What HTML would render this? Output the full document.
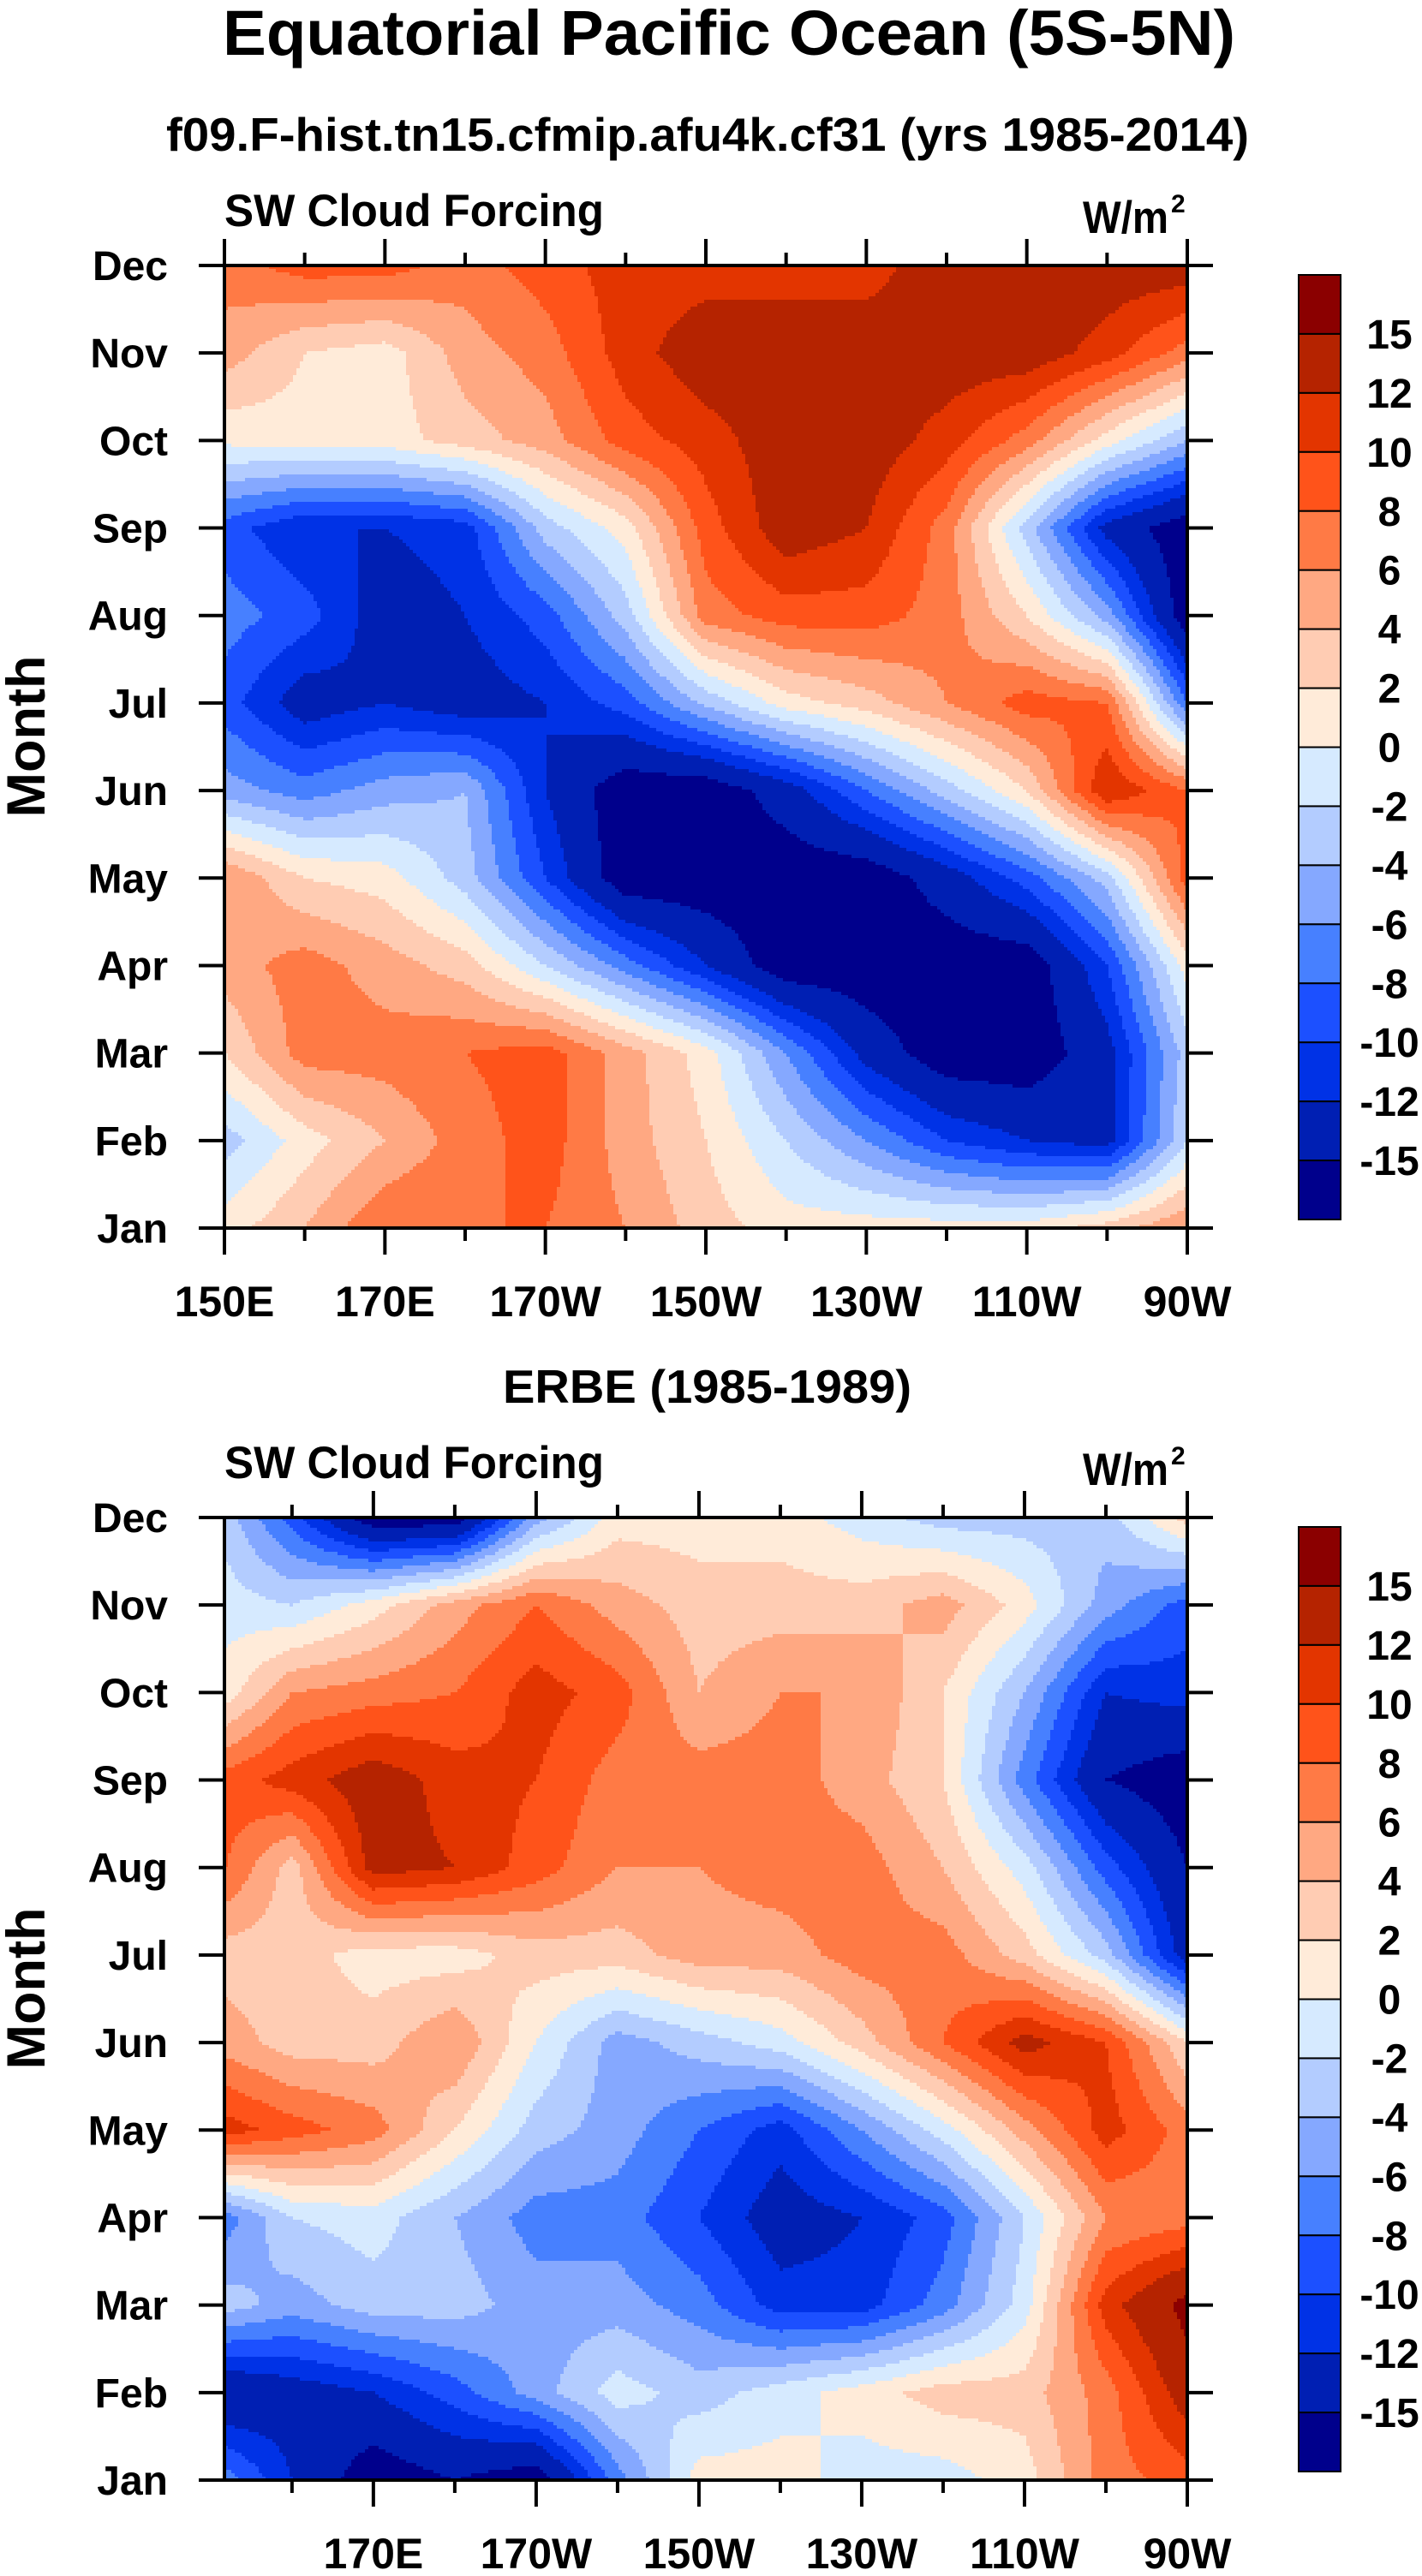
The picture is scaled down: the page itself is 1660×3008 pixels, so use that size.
<!DOCTYPE html>
<html><head><meta charset="utf-8"><title>Equatorial Pacific Ocean SW Cloud Forcing</title>
<style>html,body{margin:0;padding:0;background:#fff;}svg{display:block;font-family:"Liberation Sans",Arial,sans-serif;font-weight:bold;}</style>
</head><body>
<svg id="chart" xmlns="http://www.w3.org/2000/svg" width="1660" height="3008" viewBox="0 0 1660 3008">
<rect x="0" y="0" width="1660" height="3008" fill="#fff"/>
<text x="260" y="64" font-size="74" textLength="1182" lengthAdjust="spacingAndGlyphs">Equatorial Pacific Ocean (5S-5N)</text>
<text x="194" y="176" font-size="55" textLength="1264" lengthAdjust="spacingAndGlyphs">f09.F-hist.tn15.cfmip.afu4k.cf31 (yrs 1985-2014)</text>
<text x="587" y="1638" font-size="55" textLength="477" lengthAdjust="spacingAndGlyphs">ERBE (1985-1989)</text>
<g id="p1"></g>
<g id="p2"></g>
</svg>
<script>
const levels = [-15,-12,-10,-8,-6,-4,-2,0,2,4,6,8,10,12,15];
const levelColors = ["#00008c","#001fb3","#0032e6","#1c50ff","#4780ff","#85a8ff","#b3ccff","#d6eaff","#ffebd9","#ffccb3","#ffa882","#ff7a45","#ff531a","#e33500","#b52300","#8b0000"];
const monthLabels = ["Jan","Feb","Mar","Apr","May","Jun","Jul","Aug","Sep","Oct","Nov","Dec"];
const modelLons = [150,160,170,180,190,200,210,220,230,240,250,260,270];
const modelValues = [
 [1,4,8,8,8,6,3,1,1,1,1,3,6],
 [-3,1,4,7,9,5,2,-2,-6,-10,-12,-13,-2],
 [2,7,7,8,9,5,1,-6,-13,-17,-17,-13,-3],
 [5,7,5,3,-2,-7,-12,-17,-17,-17,-17,-10,1],
 [6,2,1,-3,-10,-17,-17,-17,-17,-13.5,-9,-3,9],
 [-5,-7,-5,-4,-12,-17,-17,-13.5,-8,-3,2,12,8],
 [-9,-13.5,-12,-13.5,-12,-9,-3.5,1,3,6,9,8,-8],
 [-7,-9,-13.5,-12,-9,-3,7,9,9,7,2,-5,-17],
 [-9,-12,-12,-11,-3,1,9,13.5,12,7,-3,-13,-17],
 [0.5,1,1,3,5,9,11,13.5,13.5,11,7,1,-4],
 [5,2,1,5,7,11,13.5,13.5,13.5,13.5,13.5,11,7],
 [7,9,9,7,9,11,11,11,11,13.5,13.5,13.5,13.5]
];
const erbeLons = [152,160,170,180,190,200,210,220,230,240,250,260,270];
const erbeValues = [
 [-7,-12,-17,-15,-17,-7,1,1,-1,-1,1,7,9],
 [-15,-13.5,-12,-9,-5,-1,-3,-1,1,3,3,7,13.5],
 [-3,-5,-3,-3,-5,-5,-7,-11,-11,-7,-1,11,16],
 [-7,-2,-1,-4,-7,-7,-10,-13.5,-12,-9,-2,6,7],
 [11,9,7,2,-3,-5,-8,-11,-6,-1,5,11,7],
 [5,3,3,6,0,-5,-3,-1,3,8,13,10,2],
 [3,3,1,1,3,3,5,5,7,7,3,-3,-13.5],
 [8,3,13,12,9,6,6,7,7,4,-1,-9,-15],
 [9,11,13.5,11,10,7,7,7,5,2,-7,-15,-17],
 [1,6,7,8,11,9,4,6,6,2,-4,-12,-11],
 [-1,-2,1,5,8,5,3,3,3,5,1,-5,-9],
 [-3,-9,-17,-17,-5,1,1,1,-1,-3,-3,-3,3]
];
const lonTickValues = [150,160,170,180,190,200,210,220,230,240,250,260,270];
const lonTickLabels = {150:"150E",170:"170E",190:"170W",210:"150W",230:"130W",250:"110W",270:"90W"};

const NS = "http://www.w3.org/2000/svg";
function mk(tag, attrs, parent){const e=document.createElementNS(NS,tag);for(const k in attrs)e.setAttribute(k,attrs[k]);parent.appendChild(e);return e;}
function levelIndex(v){let i=0;while(i<levels.length&&v>=levels[i])i++;return i;}
function sample(lons, vals, lon, m){
  let j=0;while(j<lons.length-2&&lon>lons[j+1])j++;
  let tx=(lon-lons[j])/(lons[j+1]-lons[j]);tx=Math.max(0,Math.min(1,tx));
  let i=Math.floor(m);if(i>10)i=10;if(i<0)i=0;let ty=m-i;ty=Math.max(0,Math.min(1,ty));
  const a=vals[i][j],b=vals[i][j+1],c=vals[i+1][j],d=vals[i+1][j+1];
  return (a*(1-tx)+b*tx)*(1-ty)+(c*(1-tx)+d*tx)*ty;
}
function drawPanel(g, lons, vals, lonMin, lonMax, y0){
  const x0=262,w=1124,h=1124;
  const xS=lon=>x0+(lon-lonMin)/(lonMax-lonMin)*w;
  const yS=m=>y0+h-m*h/11;
  const field=mk("g",{},g);
  
  
  const cs=4;
  for(let py=0;py<h;py+=cs){
    const m=(h-(py+cs/2))/h*11;
    let runStart=0,runCol=-1;
    for(let px=0;px<=w;px+=cs){
      let ci=-1;
      if(px<w){const lon=lonMin+(px+cs/2)/w*(lonMax-lonMin);ci=levelIndex(sample(lons,vals,lon,m));}
      if(ci!==runCol){
        if(runCol>=0){
          const r=mk("rect",{x:x0+runStart,y:y0+py,width:px-runStart+0.6,height:cs+0.6,fill:levelColors[runCol]},field);
          
          
        }
        runStart=px;runCol=ci;
      }
    }
  }
  // frame
  const fr=mk("rect",{x:x0,y:y0,width:w,height:h,fill:"none",stroke:"#000","stroke-width":4},g);
  
  
  // month ticks and labels
  monthLabels.forEach((lab,k)=>{
    const y=yS(k);
    mk("line",{x1:x0-30,y1:y,x2:x0,y2:y,stroke:"#000","stroke-width":4},g);
    mk("line",{x1:x0+w,y1:y,x2:x0+w+30,y2:y,stroke:"#000","stroke-width":4},g);
    const t=mk("text",{x:196,y:y+17,"font-size":48,"text-anchor":"end"},g);
    t.textContent=lab;
    
    
  });
  // lon ticks
  lonTickValues.forEach(lon=>{
    if(lon<lonMin-0.01)return;
    const x=xS(lon);const major=(lon-150)%20===0;const L=major?31:15;
    mk("line",{x1:x,y1:y0-L,x2:x,y2:y0,stroke:"#000","stroke-width":4},g);
    mk("line",{x1:x,y1:y0+h,x2:x,y2:y0+h+L,stroke:"#000","stroke-width":4},g);
    if(lonTickLabels[lon]){
      const t=mk("text",{x:x,y:y0+h+103,"font-size":50,"text-anchor":"middle"},g);
      t.textContent=lonTickLabels[lon];
      
      
    }
  });
  const yt=mk("text",{x:0,y:0,"font-size":63,"text-anchor":"middle",transform:`translate(52,${y0+h/2-12}) rotate(-90)`},g);
  yt.textContent="Month";
  
  
  const lt=mk("text",{x:262,y:y0-46,"font-size":53,textLength:443,lengthAdjust:"spacingAndGlyphs"},g);
  lt.textContent="SW Cloud Forcing";
  
  
  const ut=mk("text",{x:1264,y:y0-38,"font-size":53,textLength:100,lengthAdjust:"spacingAndGlyphs"},g);
  ut.textContent="W/m";
  
  
  const sup=mk("text",{x:1367,y:y0-62,"font-size":30},g);
  sup.textContent="2";
  
  
  // colorbar
  const cb=mk("g",{},g);
  
  
  const cbTop=y0+11,bh=1103/16;
  levelColors.slice().reverse().forEach((c,k)=>{
    const r=mk("rect",{x:1516,y:cbTop+k*bh,width:49,height:bh,fill:c,stroke:"#000","stroke-width":2},cb);
    
    
  });
  levels.slice().reverse().forEach((v,k)=>{
    const t=mk("text",{x:1622,y:cbTop+(k+1)*bh+17,"font-size":48,"text-anchor":"middle"},cb);
    t.textContent=String(v);
    
    
  });
}
drawPanel(document.getElementById("p1"), modelLons, modelValues, 150, 270, 310);
drawPanel(document.getElementById("p2"), erbeLons, erbeValues, 151.7, 270, 1772);
</script>
</body></html>
